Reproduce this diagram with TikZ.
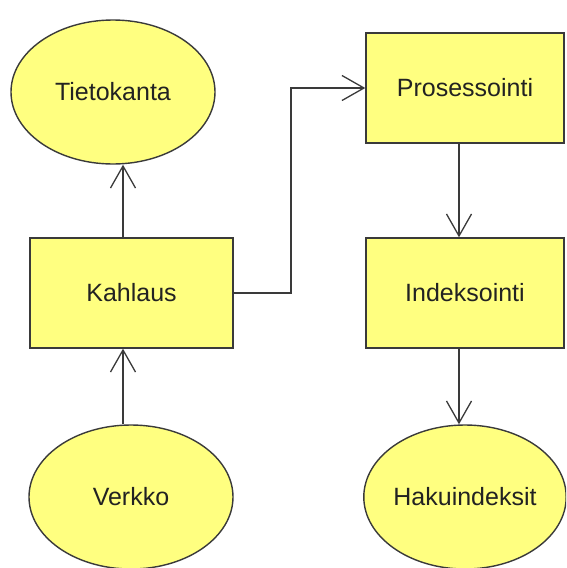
\documentclass[tikz,border=0pt]{standalone}
\usepackage{fontspec}
\setmainfont{Liberation Sans}
\usetikzlibrary{shapes.geometric,arrows.meta}
\definecolor{boxfill}{HTML}{FFFF80}
\definecolor{edge}{HTML}{3A3A3A}
\definecolor{ink}{HTML}{222222}
\begin{document}
\begin{tikzpicture}[x=1pt,y=-1pt,
  every node/.style={font=\fontsize{25}{30}\selectfont, text=ink},
  stepbox/.style={draw=edge, line width=1.4pt, fill=boxfill, rectangle,
    minimum width=203pt, minimum height=110pt, inner sep=0pt},
  store/.style={draw=edge, line width=1.4pt, fill=boxfill, ellipse,
    minimum width=204pt, minimum height=144pt, inner sep=0pt},
  link/.style={draw=edge, line width=1.3pt,
    -{Straight Barb[length=22pt,width=25pt,line width=1.3pt]}}]
  \useasboundingbox (0,0) rectangle (566,568);
  \clip (0,0) rectangle (566,568);

  % storage ellipses
  \node[store] (tk) at (113,92) {Tietokanta};
  \node[store] (ve) at (131,497) {Verkko};
  \node[store, minimum width=200pt] (hi) at (465,497) {Hakuindeksit};

  % processing steps
  \node[stepbox] (ka) at (131.5,293) {Kahlaus};
  \node[stepbox, minimum width=198pt] (pr) at (465,88) {Prosessointi};
  \node[stepbox, minimum width=198pt] (in) at (465,293) {Indeksointi};

  % connectors
  \draw[link] ([xshift=-8.5pt]ka.north) -- ([xshift=-8.5pt]ka.north |- tk.south);
  \draw[link] ([xshift=-8.5pt]ka.north |- ve.north) -- ([xshift=-8.5pt]ka.south);
  \coordinate (bend) at (291,0);
  \draw[link] (ka.east) -- (ka.east -| bend) -- (pr.west -| bend) -- (pr.west);
  \draw[link] ([xshift=-6pt]pr.south) -- ([xshift=-6pt]in.north);
  \draw[link] ([xshift=-6pt]in.south) -- ([xshift=-6pt]in.south |- hi.north);
\end{tikzpicture}
\end{document}
